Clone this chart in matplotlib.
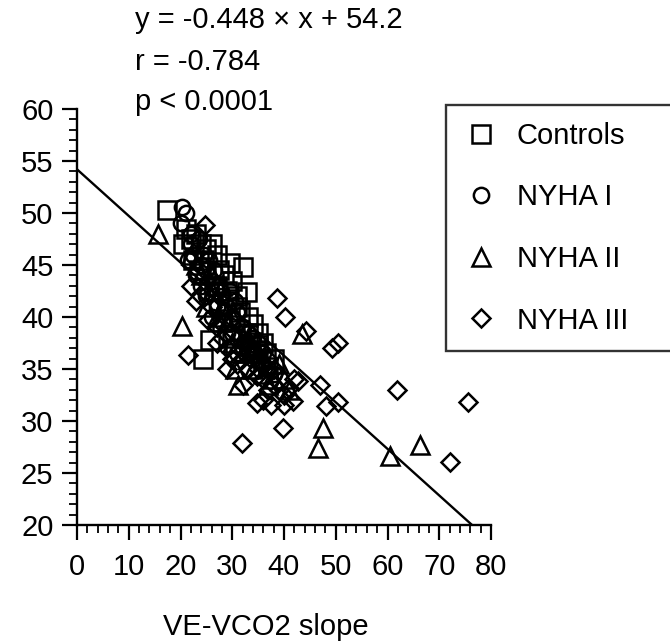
import numpy as np
import matplotlib
matplotlib.use("Agg")
import matplotlib.pyplot as plt
from matplotlib.ticker import MultipleLocator

plt.rcParams['font.family'] = ['Liberation Sans', 'DejaVu Sans']

# regression reported on the chart
slope = -0.448
intercept = 54.2

# Controls (squares)
ctrl_x = [17.3, 21.0, 20.5, 23.0, 24.0, 25.0, 26.0, 27.0, 27.5, 28.5, 29.6, 30.0, 32.1,
          31.0, 32.8, 33.0, 34.0, 35.0, 36.0, 30.0, 25.7, 24.4, 22.5, 26.5, 29.0, 31.5,
          33.5, 36.5, 38.0, 28.0, 23.5, 25.5, 30.5, 34.5, 37.0, 22.0, 24.5, 27.0, 29.0,
          31.0, 33.0, 35.0]
ctrl_y = [50.3, 48.5, 47.0, 48.0, 47.0, 46.5, 47.0, 46.0, 44.5, 44.0, 45.2, 43.5, 44.8,
          42.0, 42.4, 40.0, 39.3, 38.5, 37.5, 38.0, 37.8, 36.0, 45.5, 43.0, 41.5, 40.5,
          37.2, 36.5, 36.0, 39.5, 44.5, 42.5, 36.5, 36.8, 35.2, 47.5, 45.5, 43.0, 42.5,
          41.0, 38.5, 37.3]

# NYHA I (circles)
nyha1_x = [20.3, 21.0, 20.0, 22.0, 21.5, 22.5, 24.0, 25.0, 26.0, 27.0, 28.0, 29.0, 30.0,
           31.0, 32.0, 33.0, 34.0, 35.0, 36.0, 33.0, 34.0, 23.0, 24.5, 25.5, 26.5, 27.5,
           28.5, 29.5, 30.5, 31.5, 32.5, 35.5, 37.0, 38.0, 22.0, 23.5, 26.0, 29.0, 31.0,
           24.0, 25.0, 27.0, 28.0, 30.0, 32.0, 34.0, 36.0]
nyha1_y = [50.6, 50.0, 49.0, 47.0, 45.5, 46.0, 45.0, 44.5, 43.5, 42.5, 42.0, 41.0, 40.0,
           40.5, 39.0, 38.5, 38.0, 37.5, 36.5, 37.0, 36.0, 44.0, 46.0, 45.5, 44.5, 43.0,
           40.5, 42.5, 41.5, 38.0, 37.5, 35.8, 35.0, 34.5, 48.0, 47.5, 40.0, 38.5, 36.5,
           43.0, 42.0, 41.0, 39.5, 38.5, 37.0, 36.8, 35.5]

# NYHA II (triangles)
nyha2_x = [15.7, 22.0, 24.0, 26.0, 28.0, 29.0, 30.0, 32.0, 34.0, 36.0, 37.0, 38.0, 39.0,
           40.0, 35.0, 27.0, 25.0, 20.2, 31.1, 43.5, 47.5, 46.6, 66.3, 60.5, 23.0, 33.0,
           30.5, 41.0, 26.0, 28.0, 30.0, 32.0, 34.0, 36.0]
nyha2_y = [48.0, 46.0, 44.0, 42.5, 41.0, 39.5, 37.5, 36.5, 35.0, 34.5, 33.5, 34.0, 35.5,
           34.0, 36.5, 40.0, 41.0, 39.1, 33.5, 38.4, 29.3, 27.4, 27.7, 26.6, 45.0, 38.0,
           35.0, 33.0, 44.0, 43.0, 40.0, 38.0, 37.0, 36.0]

# NYHA III (diamonds)
nyha3_x = [24.7, 38.6, 40.2, 26.0, 27.0, 28.0, 29.0, 30.0, 31.0, 33.0, 35.0, 37.0, 38.0,
           39.0, 40.0, 41.0, 42.0, 36.0, 37.5, 40.0, 41.8, 39.8, 37.0, 34.7, 34.7, 31.8,
           21.5, 25.3, 22.0, 23.0, 44.2, 49.2, 50.5, 42.8, 47.0, 48.2, 50.4, 61.8, 75.6,
           72.1, 24.0, 27.0, 29.0, 32.0, 33.0, 36.0, 38.0]
nyha3_y = [48.8, 41.8, 40.0, 41.0, 39.0, 38.0, 37.0, 36.0, 35.5, 35.0, 35.0, 36.0, 35.0,
           33.0, 32.5, 33.2, 34.0, 32.0, 31.5, 31.5, 31.9, 29.3, 33.0, 34.3, 31.7, 27.9,
           36.3, 39.7, 43.0, 41.5, 38.7, 37.0, 37.5, 33.8, 33.5, 31.4, 31.8, 33.0, 31.8,
           26.1, 42.0, 37.5, 35.0, 33.5, 36.5, 34.0, 33.5]

fig = plt.figure(figsize=(6.7, 6.43), dpi=100)
ax = fig.add_axes([77 / 670, 1 - 525 / 643, 414 / 670, 416 / 643])

mk = dict(linestyle='none', markerfacecolor='none', markeredgecolor='black',
          markeredgewidth=1.8)
h1, = ax.plot(ctrl_x, ctrl_y, marker='s', markersize=12.5, label='Controls', **mk)
h2, = ax.plot(nyha1_x, nyha1_y, marker='o', markersize=11, label='NYHA I', **mk)
h3, = ax.plot(nyha2_x, nyha2_y, marker='^', markersize=12.5, label='NYHA II', **mk)
h4, = ax.plot(nyha3_x, nyha3_y, marker='D', markersize=9, label='NYHA III', **mk)

x_end = (20 - intercept) / slope
xs = np.array([0, x_end])
ax.plot(xs, slope * xs + intercept, color='black', linewidth=1.7)

ax.set_xlim(0, 80)
ax.set_ylim(20, 60)
ax.xaxis.set_major_locator(MultipleLocator(10))
ax.xaxis.set_minor_locator(MultipleLocator(2))
ax.yaxis.set_major_locator(MultipleLocator(5))
ax.yaxis.set_minor_locator(MultipleLocator(1))
for s in ['top', 'right']:
    ax.spines[s].set_visible(False)
for s in ['left', 'bottom']:
    ax.spines[s].set_linewidth(1.7)
ax.tick_params(which='major', length=11, width=1.6, labelsize=21, direction='out')
ax.tick_params(which='minor', length=6, width=1.3, direction='out')
ax.tick_params(axis='x', which='major', pad=9)
ax.tick_params(axis='y', which='major', pad=6)

fig.text(266 / 670, 1 - 627 / 643, 'VE-VCO2 slope', fontsize=21, ha='center', va='center')

fig.text(135 / 670, 1 - 20 / 643, 'y = -0.448 × x + 54.2', fontsize=21, va='center')
fig.text(135 / 670, 1 - 62 / 643, 'r = -0.784', fontsize=21, va='center')
fig.text(135 / 670, 1 - 102 / 643, 'p < 0.0001', fontsize=21, va='center')

leg = fig.legend(handles=[h1, h2, h3, h4], loc='upper left',
                 bbox_to_anchor=(446 / 670, 1 - 105 / 643 - 0.01, 0.5, 0.01), mode='expand',
                 fontsize=21, frameon=True, fancybox=False, handlelength=1.23,
                 handletextpad=0.62, labelspacing=1.15, borderpad=0.58,
                 borderaxespad=0)
leg.get_frame().set_edgecolor('black')
leg.get_frame().set_linewidth(1.7)

fig.savefig('out.png', dpi=100)
